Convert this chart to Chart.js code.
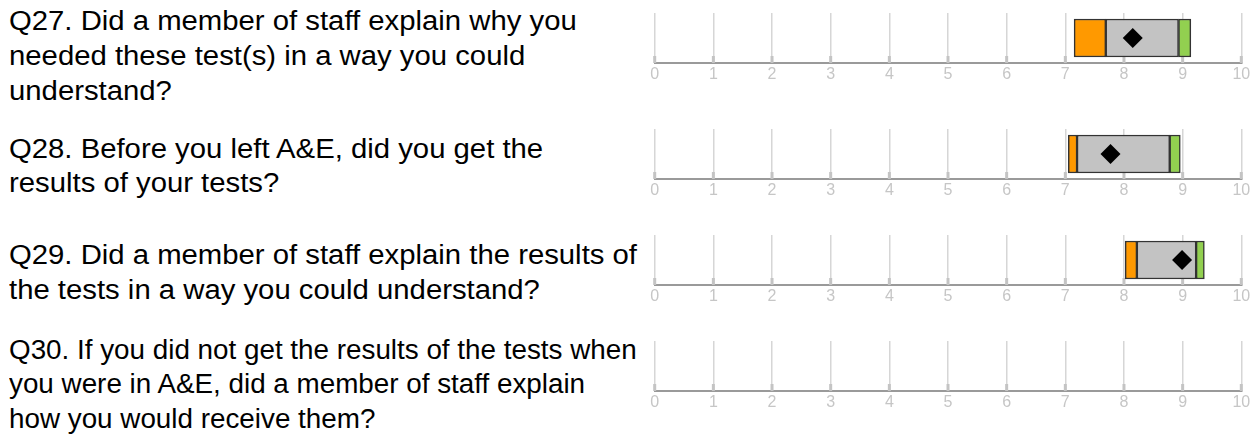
<!DOCTYPE html>
<html>
<head>
<meta charset="utf-8">
<script src="https://cdn.jsdelivr.net/npm/chart.js@4/dist/chart.umd.min.js"></script>
<style>
  body { margin: 0; background: #fff; width: 1257px; height: 436px; overflow: hidden; position: relative; }
  .q { position: absolute; left: 9px; font-family: "Liberation Sans", Arial, sans-serif; font-size: 27px;
       line-height: 34.8px; color: #000; white-space: nowrap; transform-origin: 0 0; }
  .row { position: absolute; left: 640px; width: 617px; height: 75px; }
</style>
</head>
<body>
<div id="root"></div>
<script>
// questions, one entry per row
const questions = ['Q27', 'Q28', 'Q29', 'Q30'];
const questionLines = [
  ['Q27. Did a member of staff explain why you', 'needed these test(s) in a way you could', 'understand?'],
  ['Q28. Before you left A&E, did you get the', 'results of your tests?'],
  ['Q29. Did a member of staff explain the results of', 'the tests in a way you could understand?'],
  ['Q30. If you did not get the results of the tests when', 'you were in A&E, did a member of staff explain', 'how you would receive them?']
];
// band edges (orange = worse, grey = about the same, green = better) and trust score
const worseFrom = [7.15, 7.05, 8.02, null];
const worseTo = [7.69, 7.20, 8.22, null];
const betterFrom = [8.93, 8.78, 9.23, null];
const betterTo = [9.14, 8.96, 9.37, null];
const score = [8.15, 7.77, 8.99, null];
const tickValues = [0, 1, 2, 3, 4, 5, 6, 7, 8, 9, 10];

// layout of rows (top of grid lines) and text blocks
const rowTops = [12.7, 129.3, 235, 340.7];
const textTops = [4, 131.7, 238.4, 332.5];
const textStretch = [1.085, 1.085, 1.085, 1.03];

// darker stubs at the foot of every grid line
const tickStubs = {
  id: 'tickStubs',
  beforeDatasetsDraw(chart) {
    const x = chart.scales.x;
    const bottom = chart.chartArea.bottom;
    const c = chart.ctx;
    c.save();
    c.strokeStyle = '#c4c4c4';
    c.lineWidth = 3;
    tickValues.forEach(v => {
      const px = x.getPixelForValue(v);
      c.beginPath();
      c.moveTo(px, bottom - 7);
      c.lineTo(px, bottom);
      c.stroke();
    });
    c.restore();
  }
};

const root = document.getElementById('root');

questions.forEach((q, i) => {
  const text = document.createElement('div');
  text.className = 'q';
  text.style.top = textTops[i] + 'px';
  text.style.transform = 'scaleX(' + textStretch[i] + ')';
  text.innerHTML = questionLines[i].join('<br>');
  root.appendChild(text);

  const box = document.createElement('div');
  box.className = 'row';
  box.style.top = rowTops[i] + 'px';
  const canvas = document.createElement('canvas');
  box.appendChild(canvas);
  root.appendChild(box);

  const has = score[i] !== null;
  const band = (from, to, colour) => ({
    type: 'bar',
    data: has ? [[from[i], to[i]]] : [],
    backgroundColor: colour,
    borderColor: '#333',
    borderWidth: 1.5,
    borderSkipped: false,
    grouped: false,
    barThickness: 38,
    order: 1
  });

  new Chart(canvas, {
    type: 'bar',
    data: {
      labels: [q],
      datasets: [
        {
          type: 'scatter',
          data: has ? [{ x: score[i], y: q }] : [],
          pointStyle: 'rectRot',
          pointRadius: 10,
          pointBackgroundColor: '#000',
          pointBorderWidth: 0,
          order: 0
        },
        band(worseFrom, worseTo, '#ff9900'),
        band(worseTo, betterFrom, '#c3c3c3'),
        band(betterFrom, betterTo, '#92d050')
      ]
    },
    options: {
      indexAxis: 'y',
      responsive: true,
      maintainAspectRatio: false,
      animation: false,
      layout: { autoPadding: false, padding: { left: 14.7, right: 15.7, top: 0, bottom: 0 } },
      plugins: { legend: { display: false }, tooltip: { enabled: false } },
      scales: {
        x: {
          type: 'linear',
          min: 0,
          max: 10,
          afterFit: s => { s.height = 25; },
          ticks: {
            stepSize: 1,
            padding: 2,
            color: '#c6c6c6',
            font: { family: 'Liberation Sans', size: 16 }
          },
          grid: { color: '#d6d6d6', lineWidth: 1.5, drawTicks: false },
          border: { color: '#9a9a9a', width: 2 }
        },
        y: {
          type: 'category',
          offset: true,
          display: false
        }
      }
    },
    plugins: [tickStubs]
  });
});
</script>
</body>
</html>
